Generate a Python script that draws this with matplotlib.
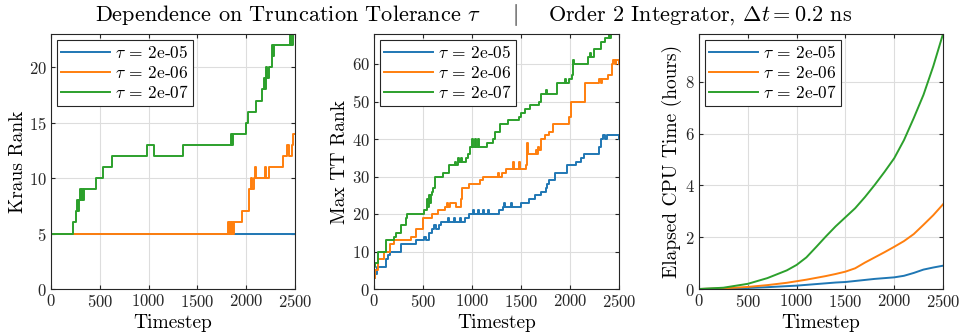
import matplotlib
matplotlib.use("Agg")
import matplotlib.pyplot as plt

plt.rcParams['font.family'] = ['cmr10', 'DejaVu Serif']
plt.rcParams['mathtext.fontset'] = 'cm'
plt.rcParams['axes.formatter.use_mathtext'] = True
plt.rcParams['axes.unicode_minus'] = False

labels = [r'$\tau$ = 2e-05', r'$\tau$ = 2e-06', r'$\tau$ = 2e-07']
colors = ['#1f77b4', '#ff7f0e', '#2ca02c']

# Panel 1: Kraus rank (step breakpoints)
kraus_t_a = [0, 2500]
kraus_v_a = [5, 5]
kraus_t_b = [0, 1815, 1825, 1835, 1845, 1855, 1865, 1880, 1960, 2030, 2050, 2060, 2075, 2090, 2100, 2110,
             2190, 2200, 2230, 2250, 2380, 2420, 2440, 2470, 2480, 2500]
kraus_v_b = [5, 6, 5, 6, 5, 6, 5, 6, 7, 9, 10, 9, 10, 11, 10, 10,
             11, 10, 11, 11, 12, 13, 12, 13, 14, 14]
kraus_t_c = [0, 225, 255, 265, 275, 285, 295, 305, 315, 325, 335, 460, 530, 620, 980, 1060, 1350, 1840, 1850,
             1860, 2000, 2015, 2100, 2160, 2180, 2195, 2205, 2215, 2230, 2260, 2270, 2280, 2300, 2450, 2460, 2475, 2500]
kraus_v_c = [5, 6, 7, 8, 7, 8, 9, 8, 9, 8, 9, 10, 11, 12, 13, 12, 13, 14, 13,
             14, 15, 16, 17, 18, 19, 18, 20, 19, 20, 22, 21, 22, 22, 23, 22, 23, 23]

# Panel 2: Max TT rank (step breakpoints)
tt_t_a = [0, 10, 30, 120, 140, 160, 280, 430, 510, 530, 560, 590, 610, 630, 660, 680, 760, 770, 820, 830, 880, 890,
          930, 970, 1010, 1020, 1060, 1070, 1110, 1120, 1160, 1170, 1280, 1320, 1330, 1340, 1400, 1410, 1500, 1580,
          1600, 1640, 1700, 1750, 1770, 1790, 1850, 1970, 2060, 2110, 2140, 2300, 2320, 2340, 2360, 2380, 2500]
tt_v_a = [3, 4, 6, 8, 9, 10, 12, 13, 14, 13, 15, 16, 17, 16, 17, 18, 19, 18, 19, 18, 19, 18,
          19, 20, 21, 20, 21, 20, 21, 20, 21, 20, 21, 22, 23, 22, 23, 22, 23, 24,
          24, 25, 26, 27, 28, 29, 31, 33, 34, 35, 36, 38, 40, 41, 40, 41, 40]
tt_t_b = [0, 10, 40, 100, 160, 200, 380, 430, 500, 590, 650, 720, 740, 760, 780, 840, 890, 900, 970, 1080, 1110,
          1270, 1280, 1310, 1350, 1420, 1430, 1480, 1490, 1550, 1560, 1575, 1650, 1660, 1670, 1680, 1700, 1740,
          1790, 1830, 1990, 2010, 2150, 2300, 2320, 2330, 2390, 2430, 2440, 2455, 2465, 2500]
tt_v_b = [3, 5, 8, 10, 12, 13, 14, 16, 19, 20, 21, 22, 23, 22, 23, 22, 24, 27, 28, 29, 30,
          31, 30, 31, 32, 34, 32, 34, 32, 33, 39, 36, 37, 36, 38, 37, 40, 41,
          42, 44, 46, 50, 55, 56, 55, 56, 57, 60, 61, 60, 61, 60]
tt_t_c = [0, 4, 10, 40, 120, 200, 220, 280, 330, 340, 510, 540, 550, 560, 570, 580, 590, 600, 620, 700, 770,
          830, 840, 860, 870, 890, 900, 940, 960, 980, 1000, 1010, 1030, 1040, 1060, 1070, 1150, 1210, 1230, 1290,
          1370, 1480, 1500, 1540, 1590, 1680, 1700, 1760, 1770, 1870, 1950, 1960, 1990, 2020, 2030, 2040, 2180,
          2200, 2210, 2250, 2320, 2360, 2400, 2410, 2420, 2500]
tt_v_c = [43, 6, 7, 10, 13, 14, 15, 17, 19, 20, 21, 24, 22, 25, 23, 25, 26, 27, 30, 31, 33,
          34, 33, 35, 34, 35, 34, 35, 36, 38, 40, 38, 40, 38, 40, 38, 39, 40, 42, 44,
          45, 46, 47, 48, 49, 50, 52, 53, 52, 55, 56, 55, 56, 57, 61, 60, 62,
          63, 62, 64, 66, 67, 68, 67, 68, 68]

# Panel 3: Elapsed CPU time (hours)
cpu_t = [0, 250, 500, 700, 900, 1000, 1100, 1200, 1300, 1400, 1500, 1600, 1700, 1800, 1900, 2000, 2100,
         2200, 2300, 2400, 2500]
cpu_a = [0, 0.015, 0.04, 0.07, 0.11, 0.13, 0.16, 0.19, 0.22, 0.25, 0.27, 0.31, 0.35, 0.39, 0.42, 0.45, 0.51,
         0.62, 0.75, 0.83, 0.90]
cpu_b = [0, 0.025, 0.08, 0.15, 0.24, 0.30, 0.36, 0.43, 0.50, 0.58, 0.67, 0.80, 1.02, 1.22, 1.42, 1.63, 1.85,
         2.12, 2.48, 2.85, 3.27]
cpu_c = [0, 0.05, 0.2, 0.42, 0.72, 0.93, 1.22, 1.62, 2.03, 2.42, 2.77, 3.12, 3.55, 4.02, 4.52, 5.05, 5.75,
         6.6, 7.5, 8.6, 9.85]

W, H = 964, 335
fig = plt.figure(figsize=(W / 100, H / 100), dpi=100)

def add_ax(l, r, t=34, b=289):
    return fig.add_axes([l / W, 1 - b / H, (r - l) / W, (b - t) / H])

ax1 = add_ax(51, 295)
ax2 = add_ax(374, 619)
ax3 = add_ax(699, 943)

for t, v, c, lab in zip([kraus_t_a, kraus_t_b, kraus_t_c], [kraus_v_a, kraus_v_b, kraus_v_c], colors, labels):
    ax1.plot(t, v, drawstyle='steps-post', color=c, lw=1.4, label=lab)
for t, v, c, lab in zip([tt_t_a, tt_t_b, tt_t_c], [tt_v_a, tt_v_b, tt_v_c], colors, labels):
    ax2.plot(t, v, drawstyle='steps-post', color=c, lw=1.4, label=lab)
for v, c, lab in zip([cpu_a, cpu_b, cpu_c], colors, labels):
    ax3.plot(cpu_t, v, color=c, lw=1.4, label=lab)

ax1.set_ylim(0, 23)
ax1.set_yticks([0, 5, 10, 15, 20])
ax1.set_ylabel('Kraus Rank', fontsize=14, labelpad=1.5)
ax2.set_ylim(0, 68)
ax2.set_yticks([0, 10, 20, 30, 40, 50, 60])
ax2.set_ylabel('Max TT Rank', fontsize=14, labelpad=2)
ax3.set_ylim(0, 9.85)
ax3.set_yticks([0, 2, 4, 6, 8])
ax3.set_ylabel('Elapsed CPU Time (hours)', fontsize=14, labelpad=2)

for ax in (ax1, ax2, ax3):
    ax.set_xlim(0, 2500)
    ax.set_xticks([0, 500, 1000, 1500, 2000, 2500])
    ax.set_xlabel('Timestep', fontsize=14, labelpad=2.5)
    ax.grid(True, color='#dddddd', lw=0.8)
    ax.set_axisbelow(True)
    ax.tick_params(direction='in', top=True, right=True, labelsize=12, length=3, color='#262626',
                   labelcolor='#262626', pad=3)
    for s in ax.spines.values():
        s.set_color('#262626')
        s.set_linewidth(0.8)
    leg = ax.legend(loc='upper left', fontsize=12.5, fancybox=False, framealpha=1, edgecolor='#262626',
                    borderpad=0.25, labelspacing=0.2, handlelength=2.8, handletextpad=0.3,
                    borderaxespad=0.35)
    leg.get_frame().set_linewidth(0.8)

ty = 1 - 15 / H
fig.text(481 / W, ty, r'Dependence on Truncation Tolerance $\tau$', ha='right', va='center', fontsize=16)
fig.text(515 / W, ty, r'$|$', ha='center', va='center', fontsize=16)
fig.text(548 / W, ty, r'Order 2 Integrator, $\Delta t = 0.2$ ns', ha='left', va='center', fontsize=16)

fig.savefig('out.png', dpi=100)
